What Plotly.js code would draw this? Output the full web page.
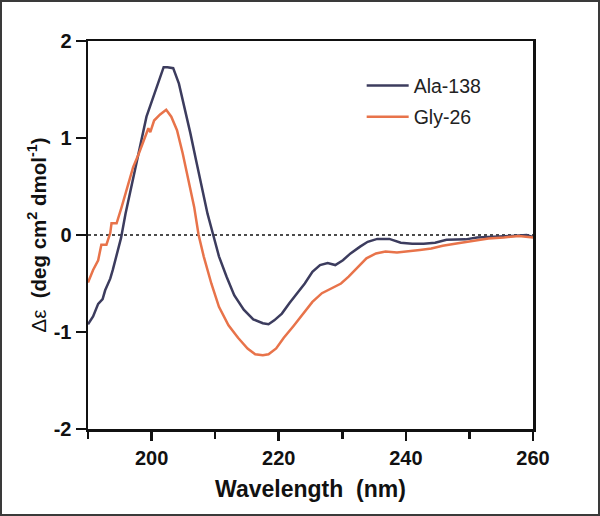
<!DOCTYPE html>
<html>
<head>
<meta charset="utf-8">
<script src="https://cdn.plot.ly/plotly-3.0.1.min.js"></script>
<style>
  html, body { margin: 0; padding: 0; background: #fff; }
  #wrap { position: relative; width: 600px; height: 516px; }
  #chart { width: 600px; height: 516px; }
  #frame { position: absolute; left: 0; top: 0; width: 600px; height: 516px; box-sizing: border-box; border: 2px solid #3a3a3a; pointer-events: none; }
</style>
</head>
<body>
<div id="wrap"><div id="chart"></div><div id="frame"></div></div>
<script>
// Wavelength (nm) and Δε values
const alaWavelength = [190, 190.8, 191.6, 192.3, 192.7, 193.5, 193.9, 194.7, 195.2, 195.9, 196.8, 197.7, 198.6, 199.2, 200.1, 201.0, 201.6, 201.9, 202.5, 203.4, 204.3, 205.2, 206.1, 207.0, 207.9, 208.8, 209.7, 210.6, 211.8, 213.0, 214.5, 216.0, 217.5, 218.4, 219.3, 220.5, 221.7, 222.9, 224.1, 225.3, 226.5, 227.7, 228.9, 230.1, 231.3, 232.8, 234.0, 235.5, 237.4, 239.2, 241.0, 242.8, 244.6, 246.4, 249.4, 251.2, 254.2, 256.6, 259.0, 260];
const alaDE = [-0.92, -0.84, -0.71, -0.66, -0.57, -0.45, -0.36, -0.15, -0.03, 0.22, 0.50, 0.77, 1.05, 1.22, 1.39, 1.56, 1.65, 1.73, 1.73, 1.72, 1.56, 1.32, 1.05, 0.77, 0.50, 0.22, 0, -0.22, -0.43, -0.62, -0.77, -0.87, -0.91, -0.92, -0.88, -0.81, -0.70, -0.60, -0.50, -0.38, -0.31, -0.29, -0.31, -0.26, -0.19, -0.12, -0.07, -0.04, -0.04, -0.08, -0.09, -0.09, -0.08, -0.05, -0.045, -0.025, -0.02, -0.01, 0.0, -0.02];

const glyWavelength = [190, 190.8, 191.6, 192.1, 192.9, 193.5, 193.7, 194.5, 195.3, 196.2, 197.1, 198.0, 198.9, 199.5, 199.8, 200.4, 201.3, 202.3, 203.1, 204.0, 204.9, 205.8, 206.7, 207.4, 208.2, 209.4, 210.6, 212.1, 213.6, 215.1, 216.3, 217.5, 218.4, 219.6, 220.8, 222.3, 223.8, 225.3, 226.8, 228.3, 229.8, 231.0, 232.5, 233.8, 235.3, 236.8, 238.6, 240.4, 242.2, 244.0, 245.8, 248.2, 250.6, 253.0, 255.4, 257.8, 260];
const glyDE = [-0.49, -0.36, -0.26, -0.10, -0.10, 0.02, 0.12, 0.12, 0.29, 0.50, 0.70, 0.84, 1.01, 1.10, 1.06, 1.18, 1.24, 1.29, 1.22, 1.08, 0.84, 0.57, 0.29, 0, -0.22, -0.50, -0.74, -0.93, -1.06, -1.17, -1.23, -1.24, -1.23, -1.17, -1.06, -0.94, -0.81, -0.69, -0.60, -0.55, -0.50, -0.43, -0.33, -0.24, -0.19, -0.17, -0.18, -0.17, -0.155, -0.14, -0.11, -0.085, -0.06, -0.035, -0.025, -0.01, -0.025];

const seriesNames = ["Ala-138", "Gly-26"];
const xTickVals = [200, 220, 240, 260];
const yTickVals = [-2, -1, 0, 1, 2];

const FONT = "Liberation Sans, Arial, sans-serif";

const traces = [
  { x: alaWavelength, y: alaDE, name: seriesNames[0], type: "scatter", mode: "lines",
    line: { color: "#3c3c5e", width: 2.5 }, legendgroup: "a" },
  { x: glyWavelength, y: glyDE, name: seriesNames[1], type: "scatter", mode: "lines",
    line: { color: "#e8734a", width: 2.5 }, legendgroup: "b" }
];

const layout = {
  width: 600, height: 516,
  margin: { l: 88, r: 67, t: 41, b: 87 },
  paper_bgcolor: "#fff", plot_bgcolor: "#fff",
  font: { family: FONT, color: "#111" },
  showlegend: true,
  legend: { x: 0.615, y: 0.935, xanchor: "left", yanchor: "top", bgcolor: "rgba(0,0,0,0)",
            font: { family: FONT, size: 19.5, color: "#222" }, tracegroupgap: 3, itemwidth: 42 },
  xaxis: {
    range: [190, 260], showgrid: false, zeroline: false,
    showline: true, linewidth: 2.5, linecolor: "#111", mirror: true,
    ticks: "outside", ticklen: 9, tickwidth: 2.5, tickcolor: "#111",
    tickvals: xTickVals,
    minor: { dtick: 10, tick0: 190, ticks: "outside", ticklen: 7, tickwidth: 2.5, tickcolor: "#111", showgrid: false },
    tickfont: { family: FONT, size: 20, color: "#111", weight: "bold" },
    title: { text: "<b>Wavelength  (nm)</b>", font: { family: FONT, size: 23, color: "#111" }, standoff: 14 }
  },
  yaxis: {
    range: [-2, 2], showgrid: false, zeroline: false,
    showline: true, linewidth: 2.5, linecolor: "#111", mirror: true,
    ticks: "outside", ticklen: 10, tickwidth: 2.5, tickcolor: "#111",
    tickvals: yTickVals, ticktext: ["-2", "-1", "0", "1", "2"],
    tickfont: { family: FONT, size: 20, color: "#111", weight: "bold" },
    title: { text: "Δε  <b>(deg cm<sup>2</sup> dmol<sup>-1</sup>)</b>", font: { family: FONT, size: 20.5, color: "#111" }, standoff: 2 }
  },
  shapes: [
    { type: "line", xref: "paper", yref: "y", x0: 0, x1: 1, y0: 0, y1: 0,
      line: { color: "#111", width: 1.5, dash: "dot" }, layer: "below" }
  ]
};

Plotly.newPlot("chart", traces, layout, { displayModeBar: false, staticPlot: true });
</script>
</body>
</html>
